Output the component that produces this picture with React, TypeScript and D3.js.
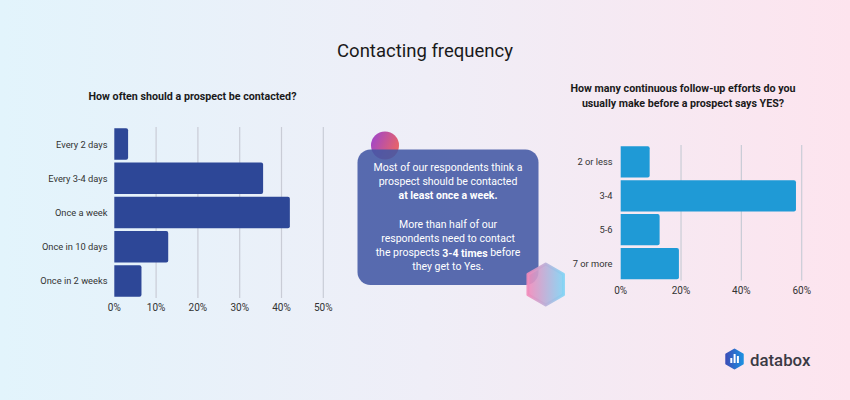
import React from "react";
import * as d3 from "d3";

const leftCategories = ["Every 2 days", "Every 3-4 days", "Once a week", "Once in 10 days", "Once in 2 weeks"];
const leftValues = [3.3, 35.6, 42.0, 12.9, 6.5];
const leftTicks = [0, 10, 20, 30, 40, 50];

const rightCategories = ["2 or less", "3-4", "5-6", "7 or more"];
const rightValues = [9.6, 58.1, 12.9, 19.3];
const rightTicks = [0, 20, 40, 60];

const titleText = "Contacting frequency";
const leftSubtitle = ["How often should a prospect be contacted?"];
const rightSubtitle = ["How many continuous follow-up efforts do you", "usually make before a prospect says YES?"];

const FONT = "Roboto, 'Noto Sans', sans-serif";

function hexPoints(cx: number, cy: number, r: number) {
  const pts: string[] = [];
  for (let i = 0; i < 6; i++) {
    const a = (Math.PI / 3) * i - Math.PI / 2;
    pts.push(`${cx + r * Math.cos(a)},${cy + r * Math.sin(a)}`);
  }
  return pts.join(" ");
}

function roundedRightBar(x0: number, y: number, w: number, h: number, r: number) {
  const rr = Math.min(r, w / 2, h / 2);
  return `M${x0},${y}H${x0 + w - rr}Q${x0 + w},${y} ${x0 + w},${y + rr}V${y + h - rr}Q${x0 + w},${y + h} ${x0 + w - rr},${y + h}H${x0}Z`;
}

function BarChart(props: {
  cats: string[]; vals: number[]; ticks: number[]; x0: number; x1: number; maxV: number;
  y0: number; y1: number; color: string; labelX: number; tickY: number;
}) {
  const { cats, vals, ticks, x0, x1, maxV, y0, y1, color, labelX, tickY } = props;
  const x = d3.scaleLinear().domain([0, maxV]).range([x0, x1]);
  const y = d3.scaleBand().domain(cats).range([y0, y1]).paddingInner(0.08).paddingOuter(0.04);
  return (
    <g>
      {ticks.map((t) => (
        <g key={t}>
          {t !== 0 && <line x1={x(t)} x2={x(t)} y1={y0} y2={y1} stroke="#c9ccd6" strokeWidth={1.2} />}
          <text x={x(t)} y={tickY} textAnchor="middle" dominantBaseline="central" fontSize={10} fill="#333" fontFamily={FONT}>{t}%</text>
        </g>
      ))}
      {cats.map((c, i) => (
        <g key={c}>
          <path d={roundedRightBar(x(0), y(c)!, x(vals[i]) - x(0), y.bandwidth(), 2)} fill={color} />
          <text x={labelX} y={y(c)! + y.bandwidth() / 2} textAnchor="end" dominantBaseline="central" fontSize={9.3} fill="#333" fontFamily={FONT}>{c}</text>
        </g>
      ))}
    </g>
  );
}

export default function App() {
  return (
    <svg width={850} height={400} style={{ position: "absolute", left: 0, top: 0 }}>
      <defs>
        <linearGradient id="bg" x1="0" x2="1" y1="0" y2="0">
          <stop offset="0" stopColor="#e2f4fc" />
          <stop offset="0.5" stopColor="#efeef7" />
          <stop offset="1" stopColor="#fde4ee" />
        </linearGradient>
        <linearGradient id="circ" x1="0" x2="1" y1="0" y2="0.4">
          <stop offset="0" stopColor="#9a43d2" />
          <stop offset="1" stopColor="#e5636c" />
        </linearGradient>
        <linearGradient id="hex" x1="0" x2="1" y1="0" y2="0">
          <stop offset="0" stopColor="#f18bbb" />
          <stop offset="1" stopColor="#82d3f4" />
        </linearGradient>
        <linearGradient id="logo" x1="0" x2="1" y1="0" y2="0">
          <stop offset="0" stopColor="#3b4fb8" />
          <stop offset="1" stopColor="#1d8fe0" />
        </linearGradient>
      </defs>
      <rect x={0} y={0} width={850} height={400} fill="url(#bg)" />
      <text x={425} y={50.5} textAnchor="middle" dominantBaseline="central" fontSize={18.5} fill="#1a1a1a" fontFamily={FONT}>{titleText}</text>

      {leftSubtitle.map((s, i) => (
        <text key={i} x={192.5} y={96 + i * 15} textAnchor="middle" dominantBaseline="central" fontSize={10.7} fontWeight="bold" fill="#1a1a1a" fontFamily={FONT}>{s}</text>
      ))}
      {rightSubtitle.map((s, i) => (
        <text key={i} x={683} y={88.5 + i * 15} textAnchor="middle" dominantBaseline="central" fontSize={10.7} fontWeight="bold" fill="#1a1a1a" fontFamily={FONT}>{s}</text>
      ))}

      <BarChart cats={leftCategories} vals={leftValues} ticks={leftTicks} x0={114.3} x1={323.3} maxV={50}
        y0={127} y1={298} color="#2d4797" labelX={107.5} tickY={307} />
      <BarChart cats={rightCategories} vals={rightValues} ticks={rightTicks} x0={620.7} x1={801.7} maxV={60}
        y0={145} y1={280.5} color="#1f9ad6" labelX={612.5} tickY={290} />

      <circle cx={385} cy={145.5} r={14} fill="url(#circ)" />
      <rect x={357.5} y={149.5} width={181} height={135.5} rx={13} fill="#4258a4" fillOpacity={0.88} />
      <g fontFamily={FONT} fontSize={10.5} fill="#ffffff" textAnchor="middle">
        <text x={448} y={167.5} dominantBaseline="central">Most of our respondents think a</text>
        <text x={448} y={181.7} dominantBaseline="central">prospect should be contacted</text>
        <text x={448} y={195.8} dominantBaseline="central" fontWeight="bold">at least once a week.</text>
        <text x={448} y={224.3} dominantBaseline="central">More than half of our</text>
        <text x={448} y={238.4} dominantBaseline="central">respondents need to contact</text>
        <text x={448} y={252.5} dominantBaseline="central">the prospects <tspan fontWeight="bold">3-4 times</tspan> before</text>
        <text x={448} y={266.7} dominantBaseline="central">they get to Yes.</text>
      </g>
      <polygon points={hexPoints(545.7, 284.5, 20.5)} fill="url(#hex)" fillOpacity={0.9} strokeLinejoin="round" stroke="url(#hex)" strokeOpacity={0.9} strokeWidth={3} />

      <g>
        <polygon points={hexPoints(734.5, 359, 9.5)} fill="url(#logo)" stroke="url(#logo)" strokeWidth={2} strokeLinejoin="round" />
        <rect x={730.3} y={358} width={2} height={5} fill="#fff" />
        <rect x={733.6} y={354} width={2} height={9} fill="#fff" />
        <rect x={736.9} y={356} width={2} height={7} fill="#fff" />
        <text x={750} y={359.5} dominantBaseline="central" fontSize={16.8} fill="#3a3a44" fontFamily={FONT} fontWeight={500}>databox</text>
      </g>
    </svg>
  );
}
